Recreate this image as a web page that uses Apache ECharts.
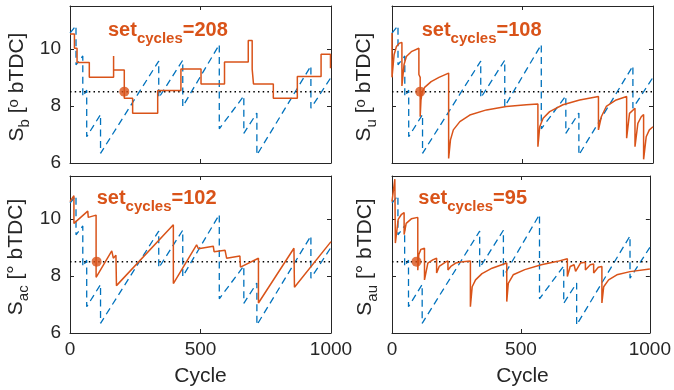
<!DOCTYPE html>
<html>
<head>
<meta charset="utf-8">
<script src="https://cdn.jsdelivr.net/npm/echarts@6/dist/echarts.min.js"></script>
<style>
  html, body { margin: 0; padding: 0; background: #fff; }
  #chart { width: 674px; height: 390px; }
</style>
</head>
<body>
<div id="chart"></div>
<script>
// axis ranges / ticks
const xRange = [0, 1000];
const yRange = [6, 11.5];
const xTicks = [0, 500, 1000];
const yTicks = [6, 8, 10];
const refLevel = 8.5;

// one entry per panel: S_b, S_u, S_ac, S_au
const panelSubs = ["b", "u", "ac", "au"];
const setCycles = [208, 108, 102, 95];

// reference (blue dashed) trace, same in every panel
const blueTrace = [
  [0, 10.55], [23, 10.81], [23, 9.44], [49, 9.75], [49, 8.33], [64, 8.55], [64, 6.92],
  [117, 7.7], [117, 6.34], [340, 9.57], [340, 8.28], [432, 9.6], [432, 7.98],
  [572, 10.15], [572, 7.2], [666, 8.35], [666, 7.04], [716, 7.75], [716, 6.28],
  [923, 9.4], [923, 7.92], [1000, 9.0]
];

// controller traces (orange)
const orangeSb = [
  [0, 10.52], [17, 10.52], [17, 10.02], [27, 10.02], [27, 9.52], [74, 9.52], [74, 9.0],
  [167, 9.0], [167, 9.75], [167, 9.26], [208, 9.26], [208, 8.27], [240, 8.27], [240, 7.74],
  [336, 7.74], [336, 8.54], [425, 8.54], [425, 9.29], [502, 9.29], [502, 8.77],
  [592, 8.77], [592, 9.54], [683, 9.54], [683, 10.29], [698, 10.29], [698, 9.29],
  [703, 9.29], [703, 8.77], [779, 8.77], [779, 8.27], [871, 8.27], [871, 9.03],
  [962, 9.03], [962, 9.81], [998, 9.81], [998, 9.32], [1000, 9.32]
];
const orangeSu = [
  [0, 10.55], [0, 9.0], [8, 9.79], [17, 10.08], [29, 10.2], [38, 10.22], [38, 8.7],
  [46, 9.44], [55, 9.73], [74, 9.9], [103, 10.02], [103, 9.1], [108, 9.0], [108, 7.62],
  [111, 8.2], [116, 8.5], [125, 8.65], [150, 8.85], [180, 9.0], [217, 9.15], [217, 6.16],
  [224, 6.81], [235, 7.16], [260, 7.45], [298, 7.68], [362, 7.86], [438, 7.98],
  [515, 8.04], [559, 8.07], [559, 6.57], [566, 7.27], [579, 7.57], [604, 7.8],
  [655, 8.04], [719, 8.21], [791, 8.33], [791, 7.16], [802, 7.62], [821, 7.98],
  [859, 8.21], [899, 8.33], [899, 6.87], [910, 7.74], [931, 7.92], [931, 6.57],
  [942, 7.39], [955, 7.62], [964, 7.7], [964, 6.13], [974, 6.92], [986, 7.16], [1000, 7.27]
];
const orangeSac = [
  [0, 10.6], [15, 10.81], [15, 9.84], [68, 10.27], [70, 10.05], [100, 10.13], [100, 7.95],
  [160, 8.88], [166, 8.62], [176, 8.72], [178, 7.66], [396, 9.79], [396, 7.73],
  [485, 9.09], [492, 8.95], [549, 9.04], [552, 8.85], [594, 8.9], [600, 8.62],
  [651, 8.7], [653, 8.31], [722, 8.62], [722, 7.05], [858, 8.97], [860, 7.6], [1000, 9.2]
];
const orangeSau = [
  [0, 10.6], [11, 11.39], [13, 9.15], [24, 9.98], [37, 10.16], [47, 10.22], [47, 9.45],
  [55, 9.84], [75, 10.0], [100, 10.05], [100, 8.2], [104, 8.75], [112, 8.93], [126, 8.97],
  [126, 7.86], [139, 8.45], [158, 8.56], [173, 8.62], [173, 8.1], [183, 8.33], [209, 8.49],
  [217, 8.52], [217, 8.21], [228, 8.33], [247, 8.45], [275, 8.5], [304, 8.52], [304, 6.92],
  [311, 7.62], [324, 7.86], [349, 8.08], [388, 8.27], [426, 8.39], [445, 8.45], [445, 7.1],
  [451, 7.74], [470, 8.04], [515, 8.22], [579, 8.39], [642, 8.51], [680, 8.6], [680, 7.98],
  [691, 8.33], [706, 8.39], [712, 8.41], [712, 8.16], [731, 8.45], [750, 8.48], [750, 8.21],
  [769, 8.39], [782, 8.42], [782, 8.1], [800, 8.3], [814, 8.33], [814, 7.05], [821, 7.62],
  [840, 7.86], [872, 8.04], [923, 8.15], [1000, 8.24]
];
const orangeTraces = [orangeSb, orangeSu, orangeSac, orangeSau];

const BLUE = "#0072BD";
const ORANGE = "#D95319";
const INK = "#262626";
const FONT = "Liberation Sans";

// panel frames (px)
const boxes = [
  { left: 70, top: 6 }, { left: 392, top: 6 },
  { left: 70, top: 176 }, { left: 392, top: 176 }
];
const boxW = 261, boxH = 157;

const grid = boxes.map((b) => ({ left: b.left, top: b.top, width: boxW, height: boxH }));

const tick = (values) => ({
  show: true, inside: true, length: 4, lineStyle: { color: INK }, customValues: values,
});

const frameAxis = (extra) => ({
  type: "value",
  axisLine: { show: true, onZero: false, lineStyle: { color: INK, width: 1 } },
  splitLine: { show: false },
  axisLabel: { show: false },
  axisPointer: { show: false },
  ...extra,
});

const xAxis = [];
const yAxis = [];
boxes.forEach((b, i) => {
  const bottomRow = i >= 2;
  const leftCol = i % 2 === 0;
  xAxis.push(frameAxis({
    gridIndex: i, position: "bottom", min: xRange[0], max: xRange[1],
    axisTick: tick(xTicks),
    axisLabel: {
      show: bottomRow, customValues: xTicks, color: INK, fontSize: 19,
      fontFamily: FONT, margin: 7, formatter: (v) => String(v),
    },
  }));
  xAxis.push(frameAxis({
    gridIndex: i, position: "top", min: xRange[0], max: xRange[1],
    axisTick: tick(xTicks),
  }));
  yAxis.push(frameAxis({
    gridIndex: i, position: "left", min: yRange[0], max: yRange[1],
    axisTick: tick(yTicks),
    axisLabel: {
      show: leftCol, customValues: yTicks, color: INK, fontSize: 19,
      fontFamily: FONT, margin: 9, formatter: (v) => String(v),
    },
  }));
  yAxis.push(frameAxis({
    gridIndex: i, position: "right", min: yRange[0], max: yRange[1],
    axisTick: tick(yTicks),
  }));
});

// plain lines, no point symbols
const lineBase = {
  type: "line", symbol: "none", showSymbol: false, silent: true, emphasis: { disabled: true },
};

const series = [];
orangeTraces.forEach((trace, i) => {
  const ax = { xAxisIndex: 2 * i, yAxisIndex: 2 * i };
  series.push({
    ...lineBase, ...ax, data: blueTrace, z: 2,
    lineStyle: { color: BLUE, width: 1.3, type: [7, 4.5] },
  });
  series.push({
    ...lineBase, ...ax, data: [[xRange[0], refLevel], [xRange[1], refLevel]], z: 3,
    lineStyle: { color: "#000", width: 1.5, type: [1.5, 3.2] },
  });
  series.push({
    ...lineBase, ...ax, data: trace, z: 4,
    lineStyle: { color: ORANGE, width: 1.5 },
  });
  series.push({
    ...ax, type: "scatter", data: [[setCycles[i], refLevel]], symbol: "circle", symbolSize: 10, z: 5,
    silent: true, itemStyle: { color: ORANGE },
  });
});

// y-axis names, "set_cycles" notes, x-axis names
const graphic = [];
const nameX = [17, 364, 16, 365];
const nameY = [87, 87, 257, 257];
panelSubs.forEach((sub, i) => {
  const deg = i < 2 ? "{sup|o}" : "{n|°}";
  graphic.push({
    type: "text", x: nameX[i], y: nameY[i], rotation: Math.PI / 2, silent: true,
    style: {
      text: `{n|S}{sub|${sub}}{n| [}${deg}{n| bTDC]}`,
      align: "center", verticalAlign: "middle", fill: INK, fontFamily: FONT,
      rich: {
        n: { fontSize: 21, lineHeight: 30, fontFamily: FONT, fill: INK },
        sub: { fontSize: 15, lineHeight: 15, verticalAlign: "bottom", fontFamily: FONT, fill: INK },
        sup: { fontSize: 15, lineHeight: 15, padding: [0, 0, 6, 0], fontFamily: FONT, fill: INK },
      },
    },
  });
});

const noteX = [108, 421.7, 96.7, 418.3];
const noteY = [30, 30, 198, 198];
setCycles.forEach((c, i) => {
  graphic.push({
    type: "text", x: noteX[i], y: noteY[i], silent: true,
    style: {
      text: `{m|set}{c|cycles}{m|=${c}}`,
      align: "left", verticalAlign: "middle", fill: ORANGE, fontFamily: FONT,
      rich: {
        m: { fontSize: 20, fontWeight: "bold", lineHeight: 32, fontFamily: FONT, fill: ORANGE },
        c: { fontSize: 15, fontWeight: "bold", lineHeight: 15, verticalAlign: "bottom", fontFamily: FONT, fill: ORANGE },
      },
    },
  });
});

[200.5, 522.5].forEach((cx) => {
  graphic.push({
    type: "text", x: cx, y: 376, silent: true,
    style: { text: "Cycle", align: "center", verticalAlign: "middle", fontSize: 21, fontFamily: FONT, fill: INK },
  });
});

const chart = echarts.init(document.getElementById("chart"), null, { renderer: "canvas" });
chart.setOption({
  backgroundColor: "#fff",
  animation: false,
  grid,
  xAxis,
  yAxis,
  series,
  graphic,
});
</script>
</body>
</html>
